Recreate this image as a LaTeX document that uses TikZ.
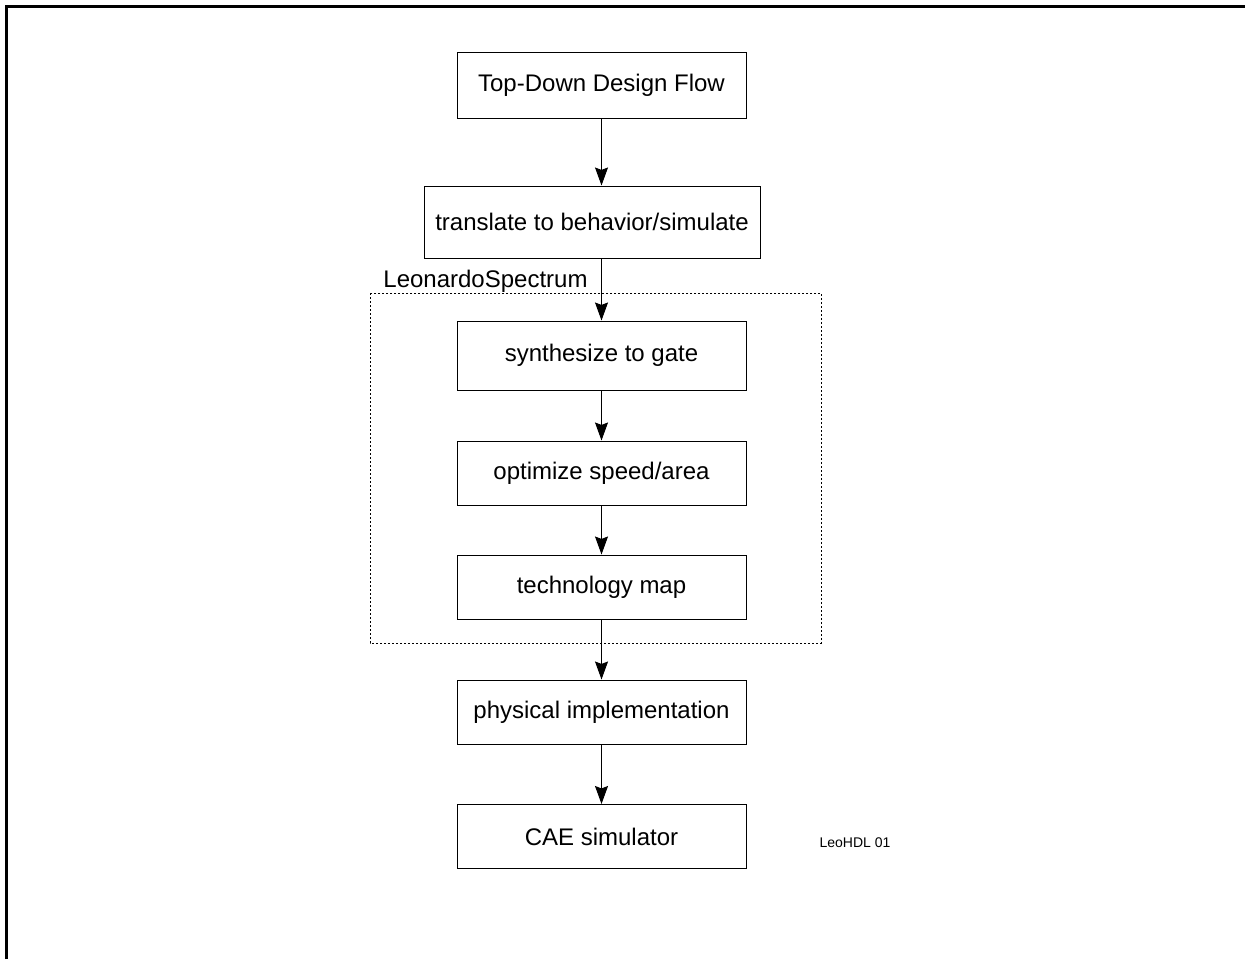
\documentclass[tikz,border=0pt]{standalone}
\usepackage{fontspec}
\setmainfont{Liberation Sans}
\usetikzlibrary{arrows.meta}

\begin{document}
\begin{tikzpicture}[x=0.5pt,y=-0.5pt,
  blk/.style={draw,line width=0.5pt,minimum width=144.5pt,minimum height=32pt,inner sep=0pt,font=\fontsize{12}{14}\selectfont},
  flow/.style={line width=0.5pt,-{Stealth[length=9pt,width=6.5pt,inset=1.2pt]}}]
\useasboundingbox (0,0) rectangle (1245,959);

\draw[line width=1.5pt] (6,959) -- (6,6) -- (1245,6);

\node[blk,minimum height=33pt] (tdf) at (601.5,85) {Top-Down Design Flow};
\node[blk,minimum width=168pt,minimum height=36pt] (trans) at (592,222) {translate to behavior/simulate};
\node[blk,minimum height=34.5pt] (synth) at (601.5,355.5) {synthesize to gate};
\node[blk] (opt) at (601.5,473) {optimize speed/area};
\node[blk] (tmap) at (601.5,587) {technology map};
\node[blk] (phys) at (601.5,712) {physical implementation};
\node[blk] (cae) at (601.5,836.5) {CAE simulator};

% LeonardoSpectrum region
\coordinate (lsnw) at (370,293);
\coordinate (lsse) at (821,643);
\draw[line width=0.5pt,dash pattern=on 1pt off 1pt] (lsnw) rectangle (lsse);
\node[anchor=base west,inner sep=0pt,font=\fontsize{12}{14}\selectfont] (lslbl) at (383,287) {LeonardoSpectrum};

\node[font=\fontsize{7}{8}\selectfont] (tag) at (855,843) {LeoHDL 01};

\draw[flow] (tdf.south) -- (tdf.south |- trans.north);
\draw[flow] (synth.north |- trans.south) -- (synth.north);
\draw[flow] (synth) -- (opt);
\draw[flow] (opt) -- (tmap);
\draw[flow] (tmap) -- (phys);
\draw[flow] (phys) -- (cae);
\end{tikzpicture}
\end{document}
